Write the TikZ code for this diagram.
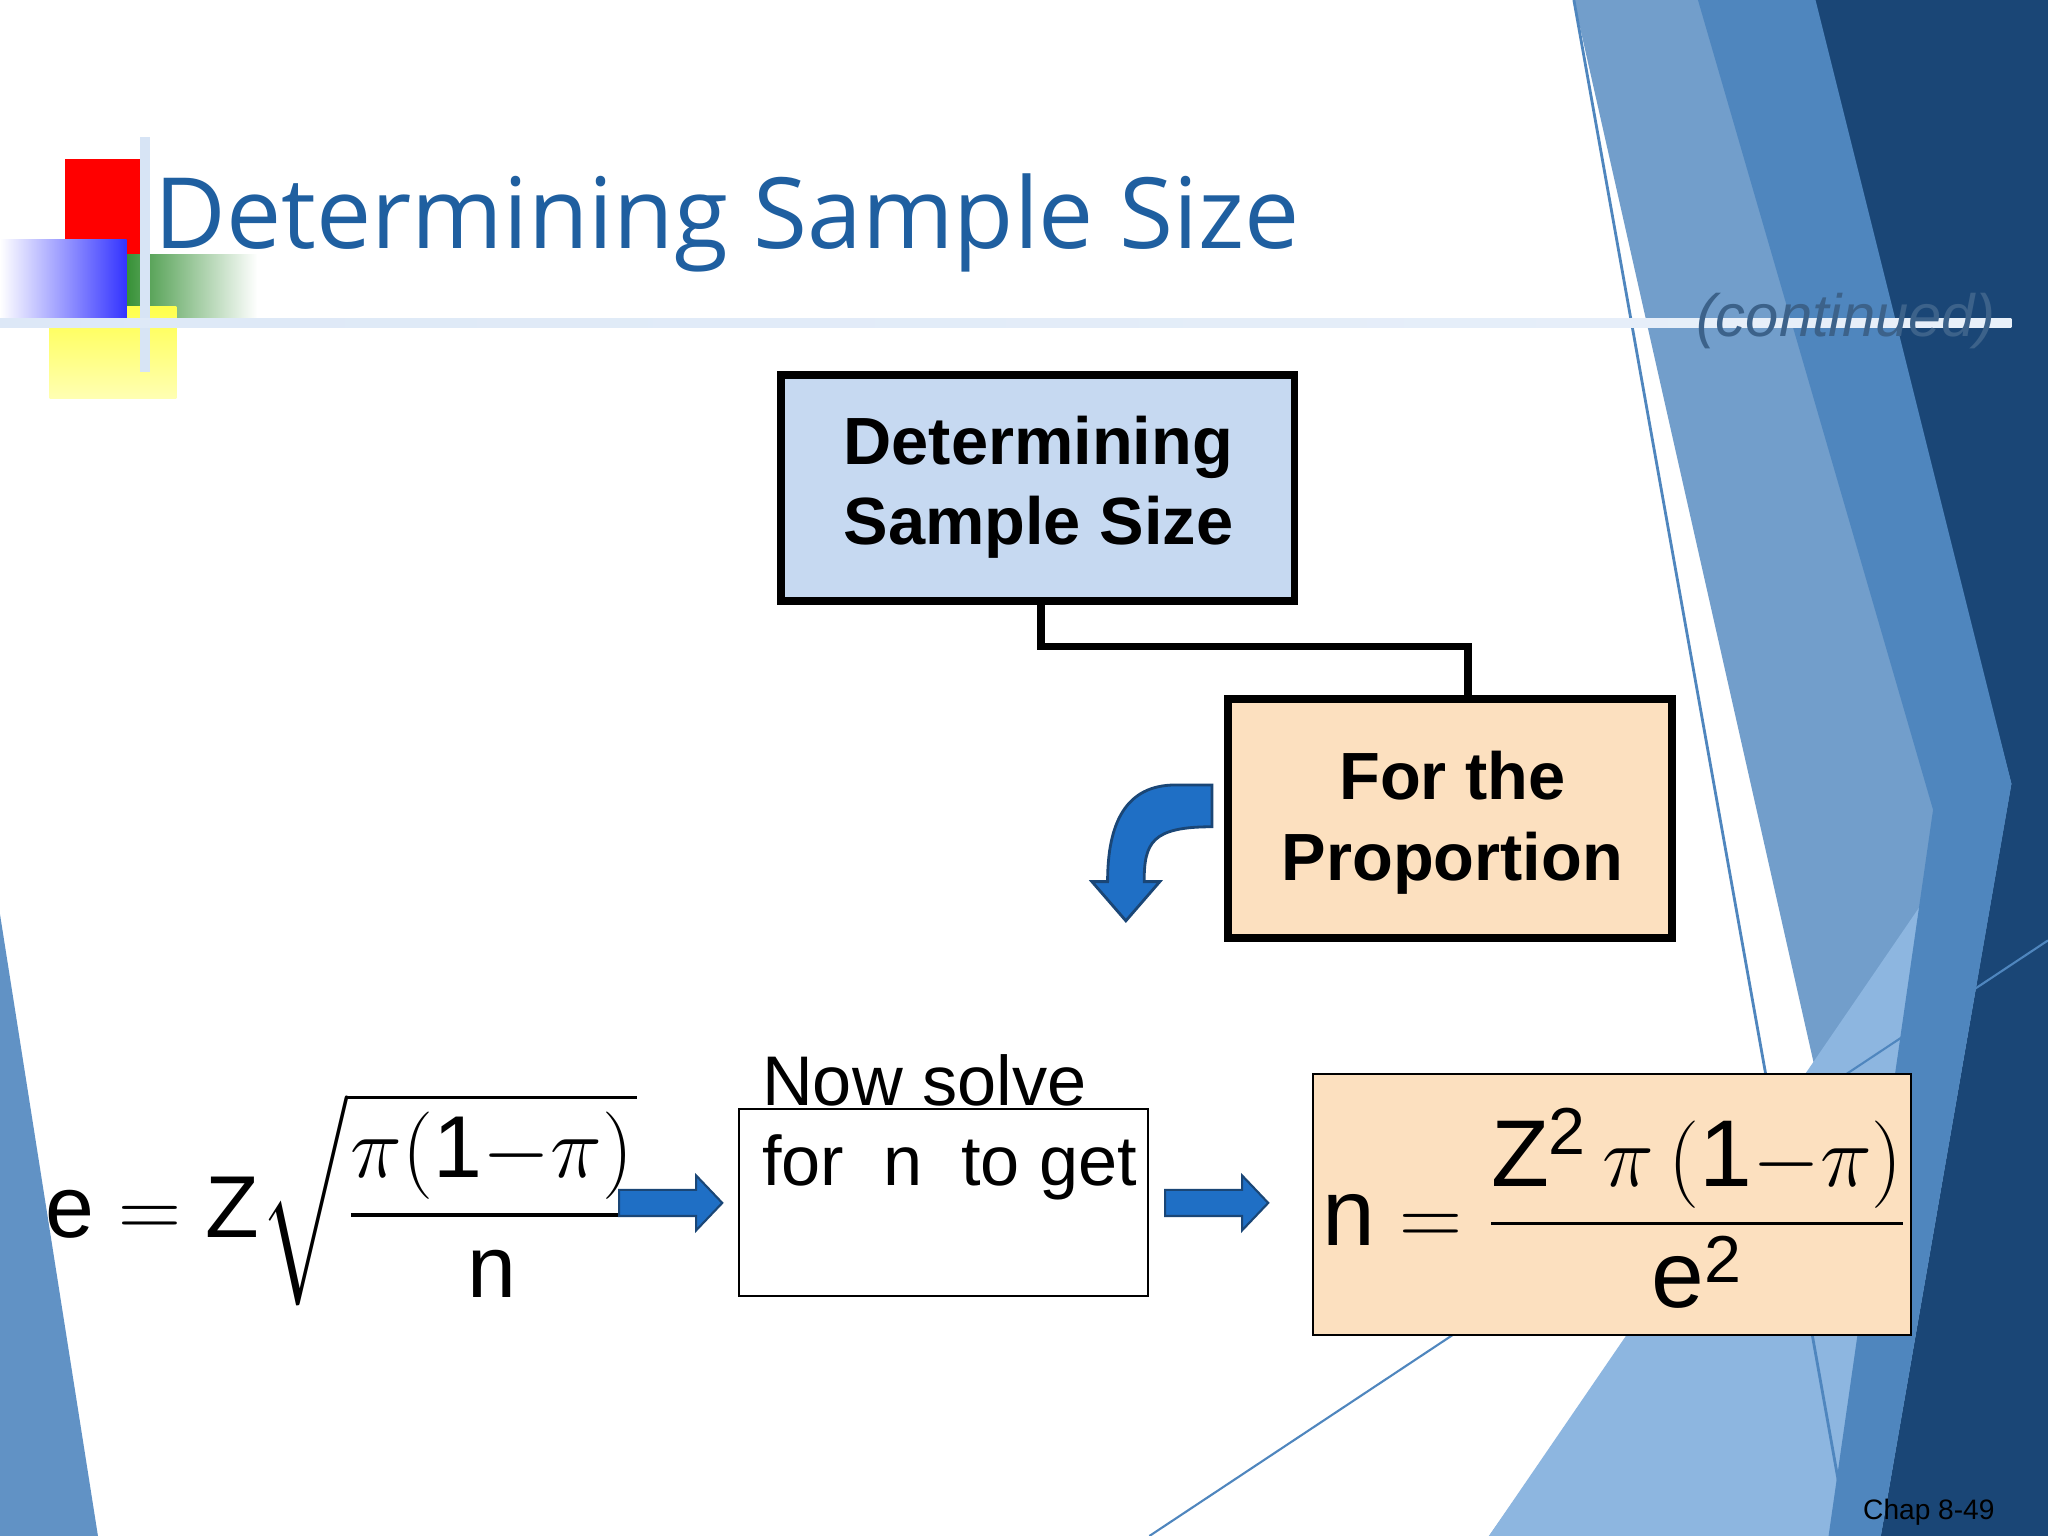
\documentclass[tikz,border=0pt]{standalone}
\usepackage{amsmath}
\usepackage{fontspec}
\setmainfont{Liberation Sans}
\newfontfamily\titlefont{Open Sans}
\definecolor{navy}{HTML}{1A4676}
\definecolor{midb}{HTML}{4F86BE}
\definecolor{lightb}{HTML}{8DB6E0}
\definecolor{paleb}{HTML}{C6D9F1}
\definecolor{peach}{HTML}{FCE0BF}
\definecolor{arrowb}{HTML}{1F6FC5}
\definecolor{titleb}{HTML}{1F5FA0}
\tikzset{
  arrfill/.style={fill=arrowb,draw=navy,line width=0.6pt},
  boldtxt/.style={font=\fontsize{19}{23}\selectfont\bfseries,align=center}
}
\begin{document}
\begin{tikzpicture}[x=0.013061cm,y=-0.013061cm]
\useasboundingbox (0,0) rectangle (1568,1176);
\fill[white] (0,0) rectangle (1568,1176);
% background shapes
\fill[midb!80] (1205,0) -- (1568,0) -- (1568,1176) -- (1140,1176) -- (1390,820) -- cycle;
\fill[lightb] (1140,1176) -- (1500,650) -- (1568,1176) -- cycle;
\fill[navy] (1385,0) -- (1568,0) -- (1568,1176) -- (1440,1176) -- (1540,600) -- cycle;
\fill[midb] (1300,0) -- (1390,0) -- (1540,600) -- (1440,1176) -- (1400,1176) -- (1480,620) -- cycle;
\fill[midb!90] (0,700) -- (75,1176) -- (0,1176) -- cycle;
\draw[midb,line width=0.8pt] (1205,0) -- (1415,1176);
\draw[midb,line width=0.6pt] (880,1176) -- (1568,720);
% title decorations
\fill[red] (50,122) rectangle (110,195);
\shade[left color=green!45!black!80,right color=white] (95,195) rectangle (197,245);
\shade[top color=yellow!70,bottom color=yellow!30] (38,235) rectangle (135,305);
\shade[left color=white,right color=blue!80] (0,183) rectangle (97,245);
\draw[paleb!70,line width=3pt] (111,105) -- (111,285);
\shade[left color=paleb!60,right color=paleb!40] (0,244) rectangle (1540,251);
\node[anchor=base west,inner sep=0,font=\titlefont\fontsize{28}{32}\selectfont,text=titleb] (title) at (118,190) {Determining Sample Size};
\node[anchor=base west,inner sep=0,font=\fontsize{17}{20}\selectfont\itshape,text=navy!85] (cont) at (1298,258) {(continued)};
% boxes
\draw[black,line width=2.2pt,fill=paleb] (598,287) rectangle (991,460);
\node[boldtxt] (t1) at (795,373) {Determining\\ Sample Size};
\draw[black,line width=2.2pt,fill=peach] (940,535) rectangle (1280,718);
\node[boldtxt] (t2) at (1112,630) {For the\\ Proportion};
\coordinate (c1) at (797,460);
\coordinate (c2) at (1124,535);
\draw[black,line width=2.2pt] (c1) -- (797,495) -- (1124,495) -- (c2);
% curved arrow
\filldraw[arrfill,line width=0.8pt] (928,601) -- (900,601) .. controls (862,601) and (848,630) .. (848,675) -- (836,675) -- (862,705) -- (888,675) -- (876,675) .. controls (876,645) and (882,633) .. (928,633) -- cycle;
% left formula
\node[anchor=west,inner sep=0,font=\fontsize{25}{28}\selectfont] (f1) at (34,918) {$\mathrm{e}=\mathrm{Z}\sqrt{\dfrac{\pi(\mathrm{1}{-}\pi)}{\mathrm{n}}}$};
\filldraw[arrfill] (474,911) -- (533,911) -- (533,900) -- (553,921) -- (533,942) -- (533,931) -- (474,931) -- cycle;
\draw[black,line width=0.6pt,fill=white] (566,849) rectangle (879,992);
\node[anchor=base west,align=left,font=\fontsize{20}{23}\selectfont,inner sep=0] (t3) at (583,908) {Now solve\\for\ \ n\ \ to get};
\filldraw[arrfill] (892,911) -- (951,911) -- (951,900) -- (971,921) -- (951,942) -- (951,931) -- (892,931) -- cycle;
\draw[black,line width=0.6pt,fill=peach] (1005,822) rectangle (1463,1022);
\node[anchor=west,inner sep=0,font=\fontsize{27}{30}\selectfont] (f2) at (1012,925) {$\mathrm{n}=\dfrac{\mathrm{Z}^{\mathrm{2}}\,\pi\,(\mathrm{1}{-}\pi)}{\mathrm{e}^{\mathrm{2}}}$};
\node[anchor=base west,inner sep=0,font=\fontsize{8}{10}\selectfont] (chap) at (1426,1163) {Chap 8-49};
\end{tikzpicture}
\end{document}
